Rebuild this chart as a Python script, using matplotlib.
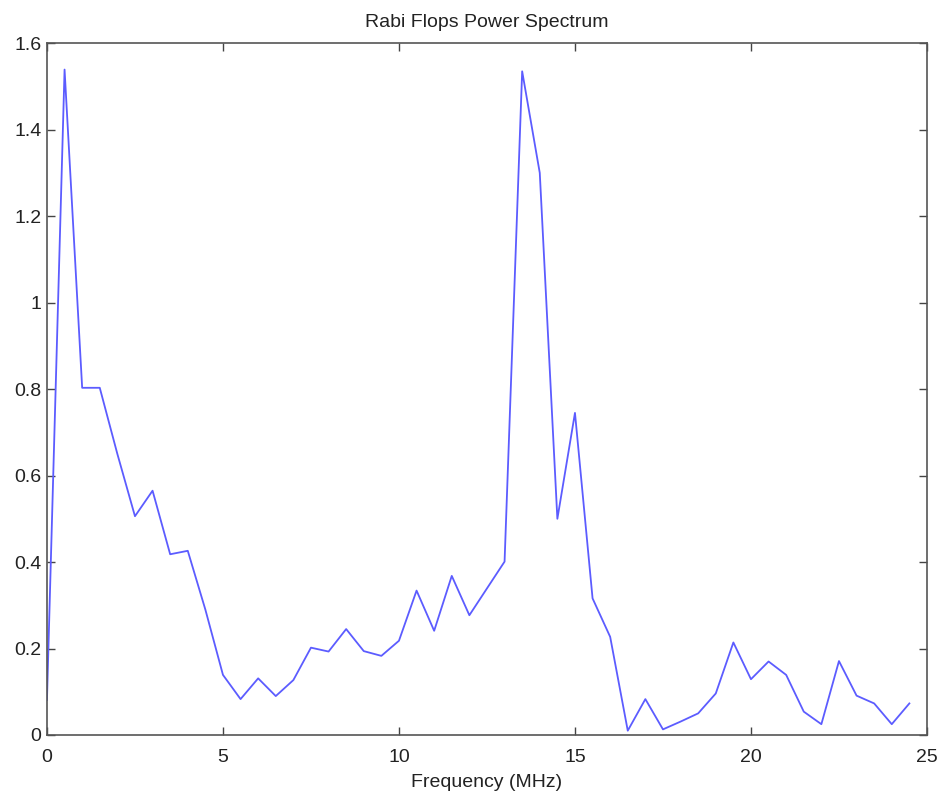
#!/usr/bin/env python3

import numpy as np
import matplotlib
matplotlib.use('Agg')
import matplotlib.pyplot as plt

# frequency axis (MHz), 0.5 MHz steps
freq = np.arange(0, 25, 0.5)

# power spectrum values
power = [0.081, 1.539, 0.803, 0.803, 0.65, 0.506, 0.565, 0.418, 0.426, 0.29,
         0.139, 0.083, 0.131, 0.090, 0.127, 0.202, 0.193, 0.245, 0.194, 0.183,
         0.218, 0.334, 0.241, 0.368, 0.277, 0.339, 0.401, 1.535, 1.30, 0.500,
         0.745, 0.316, 0.227, 0.010, 0.083, 0.013, 0.031, 0.050, 0.096, 0.214,
         0.129, 0.170, 0.139, 0.054, 0.025, 0.171, 0.091, 0.073, 0.025, 0.073]

xticks = [0, 5, 10, 15, 20, 25]
yticks = [0, 0.2, 0.4, 0.6, 0.8, 1.0, 1.2, 1.4, 1.6]
ylabels = ['0', '0.2', '0.4', '0.6', '0.8', '1', '1.2', '1.4', '1.6']

plt.rcParams['font.family'] = ['Liberation Sans', 'DejaVu Sans']

fig = plt.figure(figsize=(9.43, 7.97), dpi=100)
ax = fig.add_axes([0.0498, 0.0778, 0.9332, 0.868])

ax.plot(freq, power, color='#5c5cff', linewidth=1.3)

ax.set_xlim(0, 25)
ax.set_ylim(0, 1.6)
ax.set_xticks(xticks)
ax.set_yticks(yticks)
ax.set_yticklabels(ylabels)

ax.tick_params(direction='in', length=6, width=1, color='#444444',
               top=True, right=True, labelsize=14, labelcolor='#222222')
ax.tick_params(axis='x', pad=10)
ax.tick_params(axis='y', pad=4)
for s in ax.spines.values():
    s.set_color('#555555')
    s.set_linewidth(1.2)

ax.set_title('Rabi Flops Power Spectrum', fontsize=14, pad=12, color='#222222')
ax.set_xlabel('Frequency (MHz)', fontsize=14, labelpad=6, color='#222222')

fig.savefig('out.png', dpi=100)
